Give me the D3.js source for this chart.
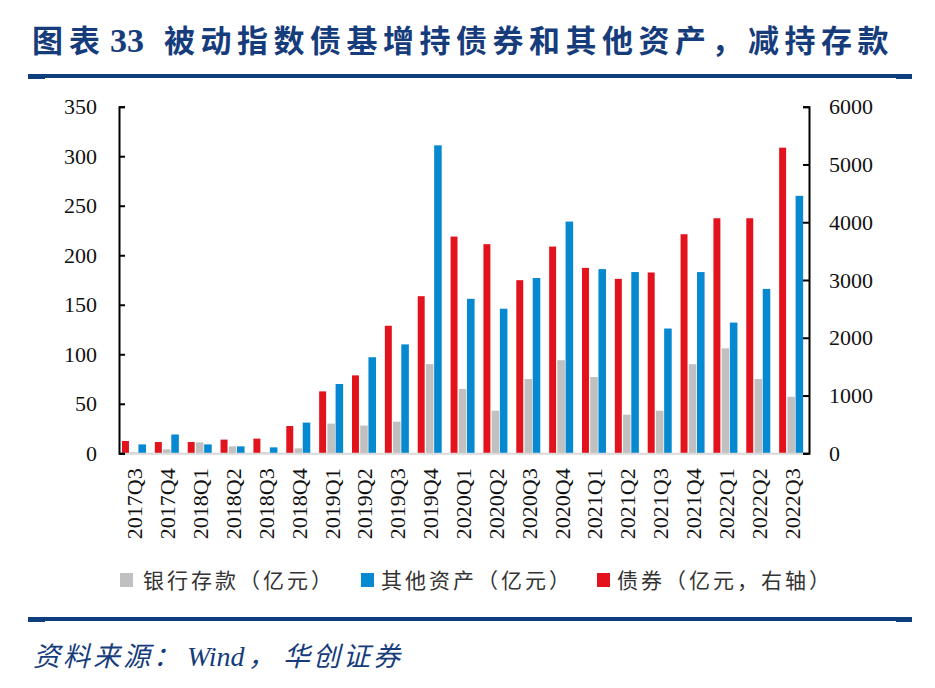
<!DOCTYPE html>
<html>
<head>
<meta charset="utf-8">
<script src="https://cdn.jsdelivr.net/npm/d3@7"></script>
<style>
  html, body { margin: 0; padding: 0; background: #fff; }
</style>
</head>
<body>
<div id="chart_div"></div>
<script>
// Data
var quarters = ["2017Q3","2017Q4","2018Q1","2018Q2","2018Q3","2018Q4",
                "2019Q1","2019Q2","2019Q3","2019Q4","2020Q1","2020Q2",
                "2020Q3","2020Q4","2021Q1","2021Q2","2021Q3","2021Q4",
                "2022Q1","2022Q2","2022Q3"];
// 债券 (亿元, right axis)
var bonds = [213,195,195,237,254,472,1072,1349,2208,2720,3752,3620,
             2997,3579,3210,3020,3130,3792,4069,4069,5291];
// 银行存款 (亿元)
var deposits = [1,4,11,7,1,5,30,28,32,90,65,43,75,94,77,39,43,90,106,75,57];
// 其他资产 (亿元)
var others = [9,19,9,7,6,31,70,97,110,311,156,146,177,234,186,183,126,183,132,166,260];

var leftTicks = [0,50,100,150,200,250,300,350];
var rightTicks = [0,1000,2000,3000,4000,5000,6000];

var seriesKeys = ["bond","deposit","other"];
var legendItems = [
    {key: "deposit", label: "银行存款（亿元）"},
    {key: "other", label: "其他资产（亿元）"},
    {key: "bond", label: "债券（亿元，右轴）"}
];

var colors = {bond: "#E3131D", deposit: "#C0C0C0", other: "#0689D1"};
var navy = "#163C7C";
var serif = "'Liberation Serif', 'Times New Roman', serif";
var cjk = "'Noto Sans CJK SC', sans-serif";

var width = 935, height = 688;
var margin = {top: 106.7, bottom: 688 - 453.3, left: 119, right: 935 - 809};

var svg = d3.select("#chart_div")
    .append("svg")
    .attr("width", width)
    .attr("height", height)
    .attr("viewBox", [0, 0, width, height]);

// Title and rules
var title = svg.append("text")
    .attr("y", 52)
    .attr("fill", navy)
    .attr("font-family", cjk)
    .attr("font-weight", "bold")
    .attr("font-size", 31);
title.append("tspan").attr("x", 32).attr("letter-spacing", 6).text("图表");
title.append("tspan").attr("x", 110).attr("font-family", serif).attr("font-size", 34).text("33");
title.append("tspan").attr("x", 164).attr("letter-spacing", 5.5).text("被动指数债基增持债券和其他资产，减持存款");

function rule(y) {
    svg.append("rect").attr("x", 28).attr("y", y).attr("width", 884).attr("height", 4).attr("fill", "#0E3E7E");
    svg.append("rect").attr("x", 28).attr("y", y).attr("width", 17).attr("height", 5).attr("fill", "#0E3E7E");
    svg.append("rect").attr("x", 896).attr("y", y).attr("width", 16).attr("height", 5).attr("fill", "#0E3E7E");
}
rule(74);
rule(617);

// Source
var source = svg.append("text")
    .attr("y", 666)
    .attr("fill", navy)
    .attr("font-style", "italic")
    .attr("font-family", cjk)
    .attr("font-size", 27);
source.append("tspan").attr("x", 33).attr("letter-spacing", 3).text("资料来源：");
source.append("tspan").attr("x", 187).attr("font-family", serif).attr("font-size", 28).text("Wind");
source.append("tspan").attr("x", 248).text("，");
source.append("tspan").attr("x", 283).attr("letter-spacing", 3).text("华创证券");

// Scales
var x0 = d3.scaleBand()
    .domain(quarters)
    .range([margin.left, width - margin.right]);

var xs = d3.scaleBand()
    .domain(seriesKeys)
    .range([3, 27])
    .paddingInner(0.08);

var yLeft = d3.scaleLinear()
    .domain([0, 350])
    .range([height - margin.bottom, margin.top]);

var yRight = d3.scaleLinear()
    .domain([0, 6000])
    .range([height - margin.bottom, margin.top]);

var rows = quarters.map((q, i) => ({q: q, bond: bonds[i], deposit: deposits[i], other: others[i]}));

// Bars
var groups = svg.append("g")
    .selectAll("g")
    .data(rows)
    .join("g")
    .attr("transform", d => `translate(${x0(d.q)},0)`);

groups.selectAll("rect")
    .data(d => seriesKeys.map(k => ({key: k, value: d[k]})))
    .join("rect")
    .attr("x", d => xs(d.key))
    .attr("width", d => d.key === "bond" ? xs.bandwidth() - 0.6 : xs.bandwidth())
    .attr("y", d => (d.key === "bond" ? yRight : yLeft)(d.value))
    .attr("height", d => (d.key === "bond" ? yRight : yLeft)(0) - (d.key === "bond" ? yRight : yLeft)(d.value))
    .attr("fill", d => colors[d.key]);

// Bottom axis (category labels rotated)
svg.append("g")
    .attr("transform", `translate(0,${height - margin.bottom})`)
    .call(d3.axisBottom(x0).tickSize(0).tickPadding(0))
    .call(g => g.select(".domain").attr("stroke", "#D9D9D9").attr("stroke-width", 2))
    .call(g => g.selectAll("text")
        .attr("font-family", serif)
        .attr("font-size", 22)
        .attr("fill", "#111")
        .attr("text-anchor", "end")
        .attr("dy", null)
        .attr("y", 0)
        .attr("transform", "translate(7,15) rotate(-90)"));

// Left axis
svg.append("g")
    .attr("transform", `translate(${margin.left},0)`)
    .call(d3.axisLeft(yLeft).tickValues(leftTicks).tickSizeInner(-6).tickSizeOuter(-6).tickPadding(22))
    .call(g => g.selectAll("line, path").attr("stroke", "#000").attr("stroke-width", 2))
    .call(g => g.selectAll("text")
        .attr("font-family", serif)
        .attr("font-size", 22)
        .attr("fill", "#111"));

// Right axis
svg.append("g")
    .attr("transform", `translate(${width - margin.right},0)`)
    .call(d3.axisRight(yRight).tickValues(rightTicks).tickFormat(d3.format("d"))
        .tickSizeInner(-6).tickSizeOuter(-6).tickPadding(20))
    .call(g => g.selectAll("line, path").attr("stroke", "#000").attr("stroke-width", 2))
    .call(g => g.selectAll("text")
        .attr("font-family", serif)
        .attr("font-size", 22)
        .attr("fill", "#111"));

// Legend
var legendX = {deposit: 120, other: 361, bond: 597};
var legend = svg.append("g")
    .selectAll("g")
    .data(legendItems)
    .join("g")
    .attr("transform", d => `translate(${legendX[d.key]},573)`);

legend.append("rect")
    .attr("width", 13)
    .attr("height", 14)
    .attr("fill", d => colors[d.key]);

legend.append("text")
    .attr("x", d => d.key === "deposit" ? 23 : 20)
    .attr("y", 15)
    .attr("font-family", cjk)
    .attr("font-size", 21)
    .attr("fill", "#333")
    .attr("textLength", d => d.label.length * 24 - 3)
    .attr("lengthAdjust", "spacing")
    .text(d => d.label);
</script>
</body>
</html>
